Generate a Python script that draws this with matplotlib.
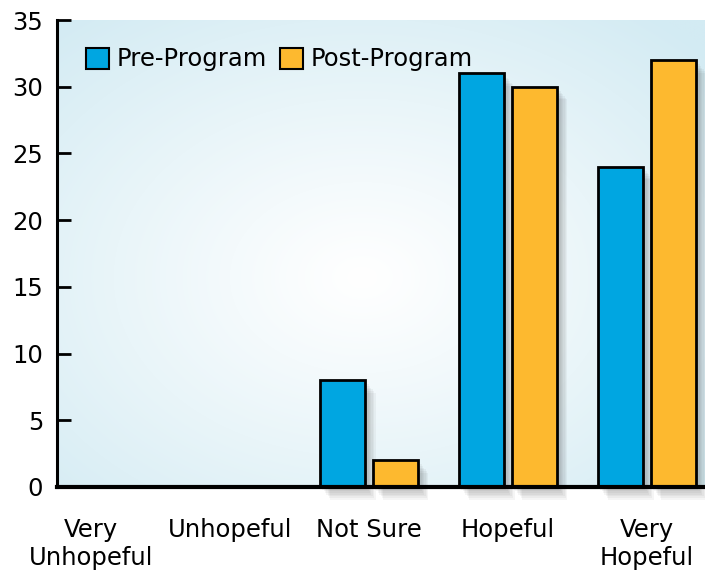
import numpy as np
import matplotlib
matplotlib.use("Agg")
import matplotlib.pyplot as plt
import matplotlib.patheffects as pe
from matplotlib.patches import Patch

categories = ["Very\nUnhopeful", "Unhopeful", "Not Sure", "Hopeful", "Very\nHopeful"]
pre_program = [0, 0, 8, 31, 24]
post_program = [0, 0, 2, 30, 32]
series_names = ["Pre-Program", "Post-Program"]
yticks = [0, 5, 10, 15, 20, 25, 30, 35]

blue = "#00A6E1"
orange = "#FDB92F"

plt.rcParams['font.family'] = ['DejaVu Sans']
FS = 17.5

fig = plt.figure(figsize=(7.05, 5.76), dpi=100)
ax = fig.add_axes([57/705, 89/576, 1 - 57/705, (487-20)/576])

# radial gradient background
h, w = 300, 400
yy, xx = np.mgrid[0:h, 0:w]
cx, cy = 0.47 * w, 0.55 * h
r = np.sqrt(((xx - cx) / (0.72 * w)) ** 2 + ((yy - cy) / (0.72 * h)) ** 2)
r = np.clip(r, 0, 1) ** 1.1
edge = np.array([211, 235, 243]) / 255.0
center = np.array([1.0, 1.0, 1.0])
img = center[None, None, :] * (1 - r[..., None]) + edge[None, None, :] * r[..., None]
ax.imshow(img, extent=[0, 1, 0, 1], transform=ax.transAxes, aspect='auto', zorder=0,
          interpolation='bilinear')

x = np.arange(len(categories))
bw = 0.325
off = 0.19

shadow = [pe.SimplePatchShadow(offset=(d, -d * 1.2), shadow_rgbFace='#4a4a4a', alpha=0.055)
          for d in (1.5, 2.5, 3.5, 4.5, 5.5, 6.5, 7.5)] + [pe.Normal()]

for vals, col, sgn in ((pre_program, blue, -1), (post_program, orange, 1)):
    bars = ax.bar(x + sgn * off, vals, bw, color=col, edgecolor='black', linewidth=2,
                  zorder=2, clip_on=False)
    for p, v in zip(bars, vals):
        if v == 0:
            p.set_visible(False)
        p.set_path_effects(shadow)

ax.set_xlim(-0.245, 4.417)
ax.set_ylim(0, 35)
ax.set_yticks(yticks)
ax.set_xticks(x)
ax.set_xticklabels(categories, fontsize=FS, linespacing=1.22)
ax.tick_params(axis='x', length=0, pad=22)
ax.tick_params(axis='y', direction='in', length=10, width=2, labelsize=FS, pad=10)

for s in ('top', 'right'):
    ax.spines[s].set_visible(False)
ax.spines['left'].set_linewidth(2.2)
ax.spines['bottom'].set_linewidth(3)
ax.spines['left'].set_zorder(5)
ax.spines['bottom'].set_zorder(5)

handles = [Patch(facecolor=blue, edgecolor='black', linewidth=1.5, label=series_names[0]),
           Patch(facecolor=orange, edgecolor='black', linewidth=1.5, label=series_names[1])]
leg = ax.legend(handles=handles, loc='upper left', ncol=2, frameon=False, fontsize=FS,
                handlelength=0.95, handleheight=0.95, handletextpad=0.3,
                columnspacing=0.55, bbox_to_anchor=(0.03, 0.962), borderaxespad=0)

fig.savefig("out.png", dpi=100)
